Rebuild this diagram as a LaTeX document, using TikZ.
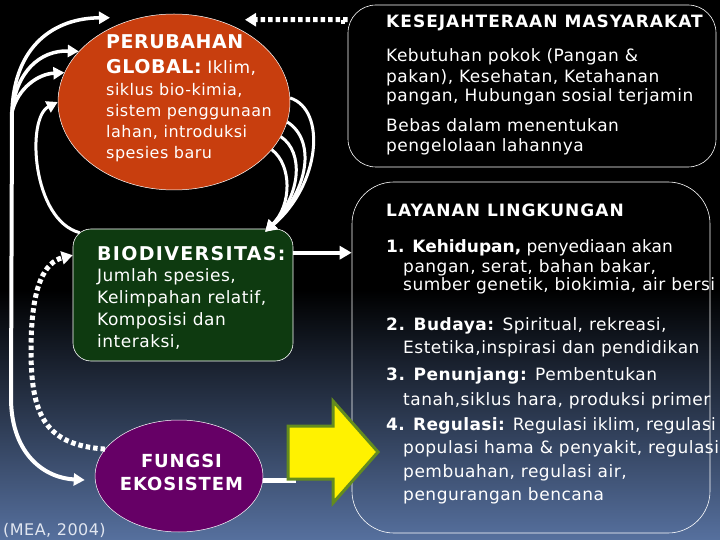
\documentclass[tikz,border=0pt]{standalone}
\usepackage{fontspec}
\setmainfont{DejaVu Sans}[LetterSpace=3]
\usetikzlibrary{arrows.meta,calc,shapes.geometric}
\definecolor{bgbot}{RGB}{86,112,158}
\definecolor{globred}{RGB}{200,62,14}
\definecolor{biogreen}{RGB}{14,58,16}
\definecolor{fungpurple}{RGB}{102,0,102}
\definecolor{arrowgreen}{RGB}{100,140,30}
\definecolor{meagrey}{RGB}{225,230,240}
\newcommand\hdb[1]{{\fontsize{19}{21}\selectfont\bfseries #1}}
\begin{document}
\begin{tikzpicture}[x=1pt,y=-1pt,
  txt/.style={inner sep=0pt, text=white, align=left, anchor=base west},
  conn/.style={draw=white, line width=3.5pt, -{Triangle[length=11pt,width=12pt]}},
  connplain/.style={draw=white, line width=5pt},
  dotconn/.style={draw=white, line width=5pt, dash pattern=on 4.5pt off 3pt, -{Triangle[length=11pt,width=13pt]}},
  panel/.style={draw=white, line width=0.6pt, inner sep=0pt},
  blob/.style={ellipse, draw=white, line width=0.5pt, inner sep=0pt},
]
\useasboundingbox (0,0) rectangle (720,540);
\fill[black] (0,0) rectangle (720,540);
\shade[top color=black, bottom color=bgbot] (0,290) rectangle (720,540);

% shapes
\node[panel, rounded corners=28pt, minimum width=368pt, minimum height=162pt] (kes) at (532,86) {};
\node[panel, rounded corners=42pt, minimum width=358pt, minimum height=351pt] (lay) at (531,357.5) {};
\node[blob, fill=globred, minimum width=232pt, minimum height=176pt] (glob) at (174,102) {};
\node[panel, fill=biogreen, rounded corners=18pt, minimum width=220pt, minimum height=132pt] (bio) at (183,295) {};
\node[blob, fill=fungpurple, minimum width=168pt, minimum height=112pt] (fung) at (179,476) {};
\fill[white] (341,20) rectangle (345,24);

% connectors
\draw[dotconn] ($(kes.north west)+(0,15)$) -- ($(glob.north)+(71,6)$);
\draw[conn, line width=4pt, -{Triangle[length=12pt,width=13pt]}] ($(bio.north east)+(0,24)$) -- ($(lay.north west)+(0,71)$);

\coordinate (T) at ($(bio.north east)+(-28,3)$);
\draw[conn, line width=3pt] (glob.2) .. controls (327,110) and (320,185) .. (T);
\draw[conn, line width=3pt] (glob.350) .. controls (316,140) and (309,190) .. (T);
\draw[conn, line width=3pt] (glob.342) .. controls (304,152) and (301,195) .. (T);
\draw[conn, line width=3pt] (glob.334) .. controls (292,165) and (292,205) .. (T);

\draw[conn, line width=3pt] ($(bio.north west)+(7,4)$) .. controls (32,220) and (26,118) .. (glob.180);

\coordinate (J) at (12,112);
\draw[conn, line width=4pt] (J) -- (11,400) .. controls (12,455) and (45,478) .. ($(fung.west)+(-10,4)$);
\draw[conn, line width=3.5pt] (J) .. controls (14,45) and (55,18) .. ($(glob.north)+(-64,4)$);
\draw[conn, line width=3.5pt] (J) .. controls (16,72) and (40,50) .. (glob.152);
\draw[conn, line width=3.5pt] (J) .. controls (18,88) and (38,74) .. (glob.165);

\draw[dotconn] (fung.160) .. controls (45,445) and (31,415) .. (31,350) .. controls (31,285) and (45,262) .. ($(bio.north west)!0.2!(bio.south west)$);

\coordinate (ytail) at (296,480);
\draw[connplain] ($(fung.east)+(0,4)$) -- (ytail);
\draw[fill=yellow, draw=arrowgreen, line width=3pt, line join=miter] (288,426) -- (333,426) -- (333,401) -- (378,452) -- (333,503) -- (333,479) -- (288,479) -- cycle;

% texts (multi-line nodes: base anchor = baseline of last line)
\node[txt, font=\fontsize{16}{21}\selectfont] (globtxt) at (106,159) {\hdb{PERUBAHAN}\\[4pt]\hdb{GLOBAL:} {\fontsize{17}{21}\selectfont Iklim,}\\[1pt]siklus bio-kimia,\\sistem penggunaan\\lahan, introduksi\\spesies baru};

\node[txt, font=\fontsize{17}{20}\selectfont\bfseries\addfontfeature{LetterSpace=6}] (kestitle) at (386,28) {KESEJAHTERAAN MASYARAKAT};
\node[txt, font=\fontsize{17}{20}\selectfont] (kestxt) at (386,152) {Kebutuhan pokok (Pangan \&\\[1pt]pakan), Kesehatan, Ketahanan\\[-1pt]pangan, Hubungan sosial terjamin\\[10pt]Bebas dalam menentukan\\pengelolaan lahannya};

\node[txt, font=\fontsize{17}{20}\selectfont\bfseries\addfontfeature{LetterSpace=6}] (laytitle) at (386,217) {LAYANAN LINGKUNGAN};
\node[txt, font=\fontsize{17}{20}\selectfont] (laytxt) at (386,500) {{\addfontfeature{LetterSpace=0}\textbf{1. Kehidupan,} penyediaan akan}\\
\hspace*{17pt}pangan, serat, bahan bakar,\\[-2pt]
\hspace*{17pt}sumber genetik, biokimia, air bersi\\[20pt]
\textbf{2. Budaya:} Spiritual, rekreasi,\\[3pt]
\hspace*{17pt}Estetika,inspirasi dan pendidikan\\[7pt]
\textbf{3. Penunjang:} Pembentukan\\[5pt]
\hspace*{17pt}tanah,siklus hara, produksi primer\\[5pt]
{\addfontfeature{LetterSpace=2}\textbf{4. Regulasi:} Regulasi iklim, regulasi}\\[3pt]
\hspace*{17pt}populasi hama \& penyakit, regulasi\\[4pt]
\hspace*{17pt}pembuahan, regulasi air,\\[3pt]
\hspace*{17pt}pengurangan bencana};

\node[txt, font=\fontsize{19}{21}\selectfont\bfseries\addfontfeature{LetterSpace=7}] (biotitle) at (97,260) {BIODIVERSITAS:};
\node[txt, font=\fontsize{17}{21.7}\selectfont] (biotxt) at (97,347) {Jumlah spesies,\\Kelimpahan relatif,\\Komposisi dan\\interaksi,};

\node[txt, anchor=base, align=center, font=\fontsize{18}{23}\selectfont\bfseries\addfontfeature{LetterSpace=5}] (fungtxt) at (181.5,490) {FUNGSI\\EKOSISTEM};

\node[txt, text=meagrey, font=\fontsize{16}{19}\selectfont] (mea) at (3,535) {(MEA, 2004)};
\end{tikzpicture}
\end{document}
